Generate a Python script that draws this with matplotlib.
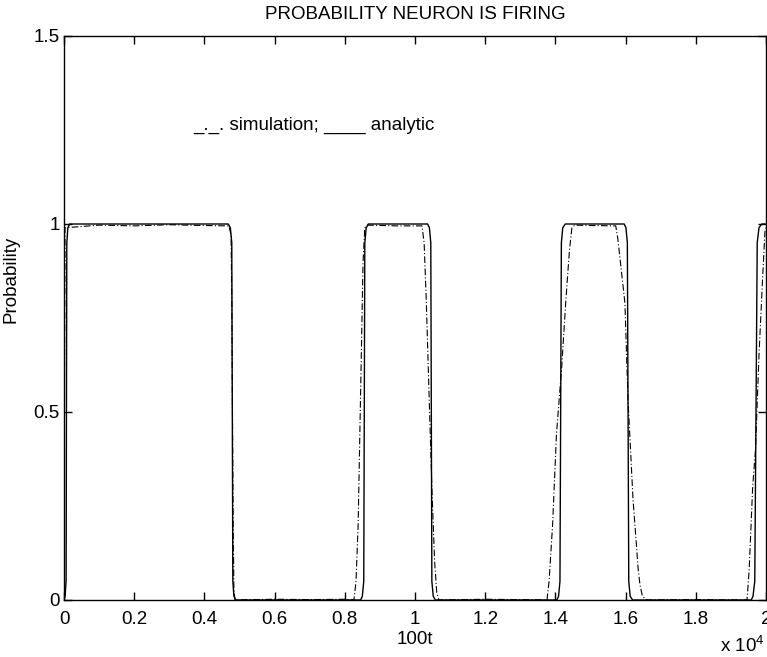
import matplotlib
matplotlib.use("Agg")
import matplotlib.pyplot as plt

plt.rcParams["font.family"] = ["Liberation Sans", "DejaVu Sans"]
plt.rcParams["mathtext.fontset"] = "custom"
plt.rcParams["mathtext.rm"] = "Liberation Sans"

# time axis in units of 10^4 (100t)
analytic_x = [0.000, 0.003, 0.006, 0.008, 0.011, 0.016,
              0.468, 0.474, 0.478, 0.481, 0.484, 0.490,
              0.845, 0.850, 0.854, 0.857, 0.861, 0.867,
              1.036, 1.041, 1.045, 1.048, 1.052, 1.058,
              1.404, 1.409, 1.413, 1.417, 1.421, 1.428,
              1.596, 1.601, 1.605, 1.609, 1.613, 1.620,
              1.958, 1.963, 1.968, 1.975, 1.980, 1.988, 2.000]
analytic_y = [0.0, 0.01, 0.05, 0.95, 0.99, 1.0,
              1.0, 0.99, 0.95, 0.05, 0.01, 0.0,
              0.0, 0.01, 0.05, 0.95, 0.99, 1.0,
              1.0, 0.99, 0.95, 0.05, 0.01, 0.0,
              0.0, 0.01, 0.05, 0.95, 0.99, 1.0,
              1.0, 0.99, 0.95, 0.05, 0.01, 0.0,
              0.0, 0.01, 0.05, 0.95, 0.99, 1.0, 1.0]

sim_x = [0.000, 0.001, 0.003, 0.1, 0.2, 0.3, 0.4,
         0.470, 0.476, 0.478, 0.480, 0.482, 0.484, 0.487,
         0.6, 0.7, 0.8,
         0.826, 0.832, 0.838, 0.843, 0.848, 0.852, 0.857, 0.865,
         0.95,
         1.020, 1.026, 1.032, 1.040, 1.048, 1.056, 1.062, 1.068,
         1.2, 1.3,
         1.376, 1.382, 1.392, 1.403, 1.418, 1.430, 1.440, 1.447, 1.455,
         1.5,
         1.572, 1.578, 1.598, 1.607, 1.621, 1.636, 1.641, 1.648, 1.660,
         1.8,
         1.946, 1.952, 1.962, 1.970, 1.980, 1.990, 1.997, 2.000]
sim_y = [0.0, 0.5, 0.99, 0.997, 0.995, 0.998, 0.996,
         0.995, 0.97, 0.8, 0.5, 0.2, 0.03, 0.0,
         0.002, 0.001, 0.002,
         0.0, 0.05, 0.2, 0.45, 0.7, 0.9, 0.99, 0.997,
         0.995,
         0.995, 0.95, 0.8, 0.55, 0.3, 0.1, 0.02, 0.0,
         0.002, 0.001,
         0.0, 0.05, 0.2, 0.44, 0.62, 0.8, 0.93, 0.99, 0.997,
         0.996,
         0.995, 0.96, 0.79, 0.53, 0.27, 0.08, 0.04, 0.01, 0.0,
         0.001,
         0.0, 0.08, 0.3, 0.4, 0.65, 0.85, 0.98, 0.99]

x_ticks = [0, 0.2, 0.4, 0.6, 0.8, 1.0, 1.2, 1.4, 1.6, 1.8, 2.0]
x_labels = ["0", "0.2", "0.4", "0.6", "0.8", "1", "1.2", "1.4", "1.6", "1.8", "2"]
y_ticks = [0, 0.5, 1.0, 1.5]
y_labels = ["0", "0.5", "1", "1.5"]

fig = plt.figure(figsize=(7.67, 6.57), dpi=100)
ax = fig.add_axes([64 / 767, 1 - 600 / 657, 702 / 767, 564 / 657])

ax.plot(analytic_x, analytic_y, color="black", lw=1.0)
ax.plot(sim_x, sim_y, color="black", lw=0.8, linestyle=(0, (6, 2, 1, 2)))

ax.set_xlim(0, 2)
ax.set_ylim(0, 1.5)
ax.set_xticks(x_ticks)
ax.set_xticklabels(x_labels)
ax.set_yticks(y_ticks)
ax.set_yticklabels(y_labels)
ax.tick_params(direction="in", length=6, width=1, top=True, right=True,
               labelsize=13.5)
ax.tick_params(axis="x", pad=8)
ax.tick_params(axis="y", pad=3)
for s in ax.spines.values():
    s.set_linewidth(1.0)

ax.set_title("PROBABILITY NEURON IS FIRING", fontsize=13.5, pad=12)
ax.set_xlabel("100t", fontsize=13.5, labelpad=2)
ax.set_ylabel("Probability", fontsize=13.5)
ax.yaxis.set_label_coords(-0.064, 0.568)

ax.text(0.367, 1.25, "_._. simulation; ____ analytic", fontsize=13.5,
        va="baseline", ha="left")

fig.text(765 / 767, 5 / 657, r"x 10$^{4}$", fontsize=13.5, ha="right",
         va="baseline")

fig.savefig("out.png", dpi=100)
